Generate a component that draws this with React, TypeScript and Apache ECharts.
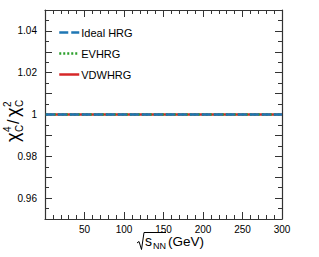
import React, { useEffect, useRef } from "react";
import * as echarts from "echarts";

const sqrtSNN = [1, 7.7, 11.5, 19.6, 27, 39, 62.4, 100, 130, 200, 250, 300];
const idealHRG = [1, 1, 1, 1, 1, 1, 1, 1, 1, 1, 1, 1];
const evHRG = [1, 1, 1, 1, 1, 1, 1, 1, 1, 1, 1, 1];
const vdwHRG = [1, 1, 1, 1, 1, 1, 1, 1, 1, 1, 1, 1];
const seriesNames = ["Ideal HRG", "EVHRG", "VDWHRG"];
const seriesColors = ["#1f77b4", "#2ca02c", "#d62728"];
const seriesDash: (number[] | string)[] = [[9, 3], [2, 2], "solid"];

const FONT = "Liberation Sans, Arial, Helvetica, sans-serif";
const AXIS_COLOR = "#333";

export default function App() {
  const ref = useRef<HTMLDivElement>(null);
  useEffect(() => {
    document.body.style.margin = "0";
    const chart = echarts.init(ref.current!, null, { renderer: "svg" });
    const toPairs = (ys: number[]) => sqrtSNN.map((x, i) => [x, ys[i]]);
    const xCommon = {
      type: "value" as const,
      min: 0,
      max: 300,
      interval: 50,
      axisLine: { show: true, onZero: false, lineStyle: { color: AXIS_COLOR, width: 1.2 } },
      axisTick: { show: true, inside: true, length: 7, lineStyle: { color: AXIS_COLOR } },
      minorTick: { show: true, splitNumber: 5, length: 4, lineStyle: { color: AXIS_COLOR } },
      splitLine: { show: false },
    };
    const yCommon = {
      type: "value" as const,
      min: 0.95,
      max: 1.05,
      interval: 0.01,
      axisLine: { show: true, onZero: false, lineStyle: { color: AXIS_COLOR, width: 1.2 } },
      axisTick: { show: true, inside: true, length: 7, lineStyle: { color: AXIS_COLOR } },
      minorTick: { show: true, splitNumber: 2, length: 4, lineStyle: { color: AXIS_COLOR } },
      splitLine: { show: false },
    };
    const allData = [idealHRG, evHRG, vdwHRG];
    chart.setOption({
      animation: false,
      grid: { left: 45, right: 37, top: 10, bottom: 38 },
      xAxis: [
        {
          ...xCommon,
          position: "bottom",
          axisLabel: {
            fontSize: 10,
            fontFamily: FONT,
            color: "#000",
            margin: 5,
            formatter: (v: number) => (v === 0 ? "" : String(v)),
          },
        },
        { ...xCommon, position: "top", axisLabel: { show: false } },
      ],
      yAxis: [
        {
          ...yCommon,
          position: "left",
          axisLabel: {
            fontSize: 10,
            fontFamily: FONT,
            color: "#000",
            margin: 8,
            formatter: (v: number) => {
              const k = Math.round(v * 100);
              if (k % 2 !== 0) return "";
              return String(k / 100);
            },
          },
        },
        { ...yCommon, position: "right", axisLabel: { show: false } },
      ],
      legend: {
        orient: "vertical",
        left: 53,
        top: 22,
        itemWidth: 20,
        itemHeight: 10,
        itemGap: 10,
        textStyle: { fontSize: 11, fontFamily: FONT, color: "#000", padding: [0, 0, 0, -3] },
        data: seriesNames.map((n, i) => ({
          name: n,
          itemStyle: { opacity: 0 },
          lineStyle: { color: seriesColors[i], width: 2.5, type: seriesDash[i] },
        })),
      },
      series: seriesNames.map((n, i) => ({
        name: n,
        type: "line",
        data: toPairs(allData[i]),
        showSymbol: false,
        symbol: "none",
        z: 4 - i,
        lineStyle: { color: seriesColors[i], width: 2.5, type: seriesDash[i] },
        itemStyle: { color: seriesColors[i] },
      })),
      graphic: [
        {
          type: "group",
          x: 13,
          y: 114,
          rotation: Math.PI / 2,
          children: [
            { type: "text", x: -28, y: 0, style: { text: "χ", fontSize: 18, fontFamily: FONT, fill: "#000", textVerticalAlign: "middle" } },
            { type: "text", x: -18, y: -6, style: { text: "4", fontSize: 10, fontFamily: FONT, fill: "#000", textVerticalAlign: "middle" } },
            { type: "text", x: -18, y: 6, style: { text: "C", fontSize: 10, fontFamily: FONT, fill: "#000", textVerticalAlign: "middle" } },
            { type: "text", x: -10, y: 0, style: { text: "/", fontSize: 16, fontFamily: FONT, fill: "#000", textVerticalAlign: "middle" } },
            { type: "text", x: -3, y: 0, style: { text: "χ", fontSize: 18, fontFamily: FONT, fill: "#000", textVerticalAlign: "middle" } },
            { type: "text", x: 7, y: -6, style: { text: "2", fontSize: 10, fontFamily: FONT, fill: "#000", textVerticalAlign: "middle" } },
            { type: "text", x: 7, y: 6, style: { text: "C", fontSize: 10, fontFamily: FONT, fill: "#000", textVerticalAlign: "middle" } },
          ],
        },
        {
          type: "polyline",
          shape: { points: [[137, 243], [139, 241.5], [141.5, 249.5], [144, 232.5], [166, 232.5]] },
          style: { stroke: "#000", lineWidth: 1, fill: "none" },
        },
        { type: "text", x: 145, y: 241, style: { text: "s", fontSize: 14, fontFamily: FONT, fill: "#000", textVerticalAlign: "middle" } },
        { type: "text", x: 153, y: 246, style: { text: "NN", fontSize: 9, fontFamily: FONT, fill: "#000", textVerticalAlign: "middle" } },
        { type: "text", x: 168, y: 241, style: { text: "(GeV)", fontSize: 13.5, fontFamily: FONT, fill: "#000", textVerticalAlign: "middle" } },
      ],
    });
    return () => chart.dispose();
  }, []);
  return <div ref={ref} style={{ width: 319, height: 257 }} />;
}
